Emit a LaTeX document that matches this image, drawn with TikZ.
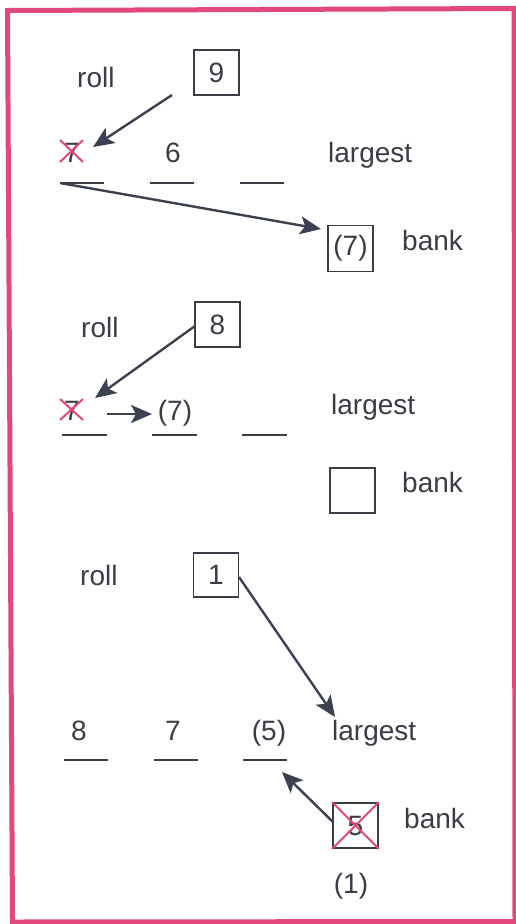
\documentclass[tikz,border=0pt]{standalone}
\usepackage{fontspec}
\setmainfont{Liberation Sans}
\usetikzlibrary{arrows.meta}
\definecolor{ink}{HTML}{3A3D45}
\definecolor{arrowink}{HTML}{3B4150}
\definecolor{rose}{HTML}{E2487C}
\tikzset{
  lbl/.style={inner sep=0pt, text=ink, font=\fontsize{28}{30}\selectfont},
  word/.style={lbl, anchor=base west},
  digit/.style={lbl, anchor=base},
  diebox/.style={lbl, draw=ink, line width=1.9pt, minimum width=45pt, minimum height=45pt},
  blankline/.style={draw=ink, line width=1.7pt},
  move/.style={draw=arrowink, line width=2.4pt, -{Stealth[length=21pt,width=18pt,inset=5pt]}},
  xmark/.style={draw=rose, line width=2pt},
  frame/.style={draw=rose, line width=5pt, line join=miter}
}
\begin{document}
\begin{tikzpicture}[x=1pt,y=-1pt]
\useasboundingbox (0,0) rectangle (516,924);
\fill[white] (0,0) rectangle (516,924);
\draw[frame] (7.5,10.5) -- (514,8.5) -- (515,921.5) -- (12.5,922) -- cycle;

% ---- first roll: 9 ----
\node[word] (roll1) at (77,87) {roll};
\node[diebox] (box9) at (216.5,72.5) {9};
\node[digit] (x7a) at (72,162) {7};
\draw[xmark] ([shift={(-12,-22)}]x7a.base) -- ([shift={(11,0)}]x7a.base)
             ([shift={(-12,0)}]x7a.base) -- ([shift={(11,-22)}]x7a.base);
\node[digit] (six) at (173,162) {6};
\node[word] (largest1) at (328,162) {largest};
\node[diebox, minimum height=46pt] (bankA) at (350.5,248.5) {(7)};
\node[word] (bank1) at (402,250) {bank};
\coordinate (b1a) at (60,183);
\coordinate (b1b) at (150,183);
\coordinate (b1c) at (240,183);
\draw[blankline] (b1a) -- ++(44,0) (b1b) -- ++(44,0) (b1c) -- ++(44,0);
\coordinate (a1s) at (172,95);
\coordinate (a1e) at (93,147);
\draw[move] (a1s) -- (a1e);
\coordinate (a2e) at (321,229);
\draw[move] (b1a) -- (a2e);

% ---- second roll: 8 ----
\node[word] (roll2) at (81,337) {roll};
\node[diebox] (box8) at (217.5,324.5) {8};
\node[digit] (x7b) at (72,420) {7};
\draw[xmark] ([shift={(-12,-21)}]x7b.base) -- ([shift={(11,0)}]x7b.base)
             ([shift={(-12,0)}]x7b.base) -- ([shift={(11,-21)}]x7b.base);
\node[digit] (p7) at (175,420) {(7)};
\node[word] (largest2) at (331,414) {largest};
\node[diebox] (bankB) at (352.5,490.5) {};
\node[word] (bank2) at (402,492) {bank};
\coordinate (b2a) at (62,435);
\coordinate (b2b) at (152,435);
\coordinate (b2c) at (242,435);
\draw[blankline] (b2a) -- ++(45,0) (b2b) -- ++(45,0) (b2c) -- ++(45,0);
\coordinate (a3s) at (195,326);
\coordinate (a3e) at (95,398);
\draw[move] (a3s) -- (a3e);
\coordinate (a4s) at (107,414);
\coordinate (a4e) at (152,414);
\draw[move] (a4s) -- (a4e);

% ---- third roll: 1 ----
\node[word] (roll3) at (80,585) {roll};
\node[diebox, minimum height=44pt] (box1) at (216,575) {1};
\node[digit] (eight) at (79,740) {8};
\node[digit] (seven) at (173,740) {7};
\node[digit] (p5) at (269,740) {(5)};
\node[word] (largest3) at (332,740) {largest};
\node[diebox] (bankC) at (355.5,825.5) {5};
\draw[xmark] (bankC.north west) -- (bankC.south east)
             (bankC.south west) -- (bankC.north east);
\node[word] (bank3) at (404,828) {bank};
\node[digit] (p1) at (351,893) {(1)};
\coordinate (b3a) at (64,760);
\coordinate (b3b) at (154,760);
\coordinate (b3c) at (243,760);
\draw[blankline] (b3a) -- ++(44,0) (b3b) -- ++(44,0) (b3c) -- ++(44,0);
\coordinate (a5s) at (239,577);
\coordinate (a5e) at (335,717);
\draw[move] (a5s) -- (a5e);
\coordinate (a6s) at (333,822);
\coordinate (a6e) at (282,772);
\draw[move] (a6s) -- (a6e);
\end{tikzpicture}
\end{document}
